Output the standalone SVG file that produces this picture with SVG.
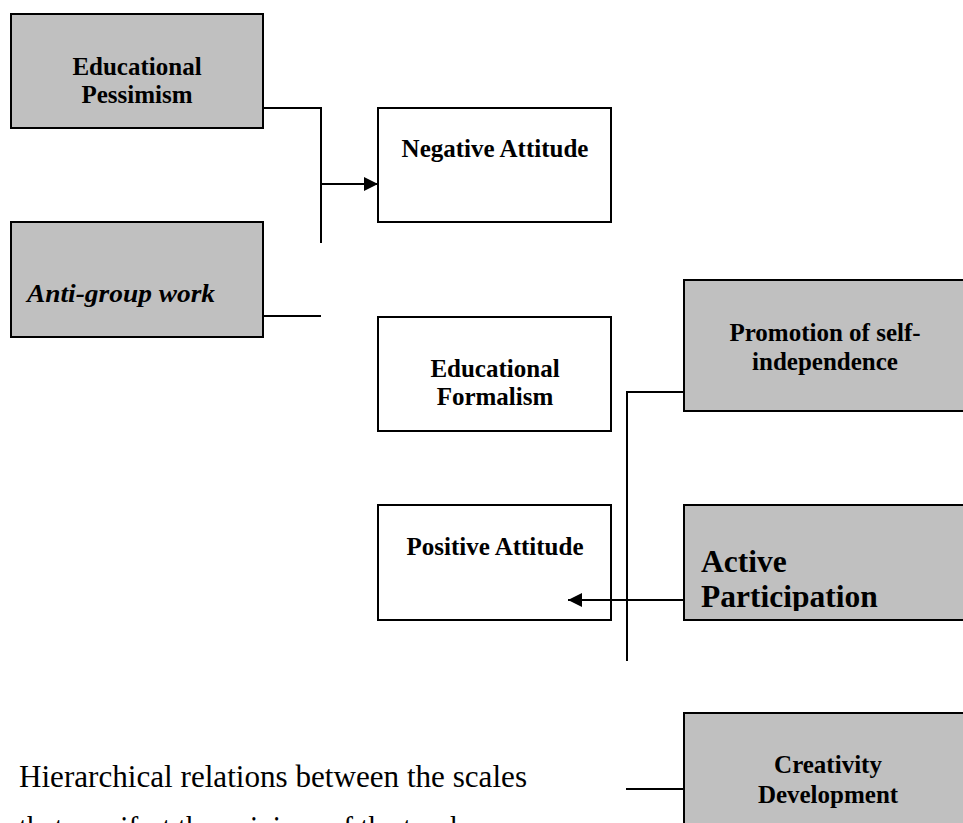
<svg xmlns="http://www.w3.org/2000/svg" width="963" height="823" viewBox="0 0 963 823">
<style>
.box{stroke:#000;stroke-width:2}
.g{fill:#c0c0c0}
.w{fill:#fff}
.t{font-family:"Liberation Serif","Times New Roman",serif;font-weight:bold;font-size:25px;fill:#000;text-anchor:middle}
.ln{fill:none;stroke:#000;stroke-width:2}
.cap{font-family:"Liberation Serif","Times New Roman",serif;font-size:32px;fill:#000}
</style>
<defs>
<marker id="ah" viewBox="0 0 10 10" refX="10" refY="5" markerWidth="15" markerHeight="14" markerUnits="userSpaceOnUse" orient="auto">
<path d="M0,0 L10,5 L0,10 z" fill="#000"/>
</marker>
<clipPath id="apclip"><rect x="684" y="505" width="290" height="106"/></clipPath>
</defs>
<rect width="963" height="823" fill="#fff"/>

<g id="educational-pessimism">
<rect class="box g" x="11" y="14" width="252" height="114"/>
<text class="t" x="137" y="75">Educational</text>
<text class="t" x="137" y="103">Pessimism</text>
</g>

<g id="anti-group-work">
<rect class="box g" x="11" y="222" width="252" height="115"/>
<text x="27" y="302" font-family="Liberation Serif, Times New Roman, serif" font-weight="bold" font-style="italic" font-size="26" textLength="188" lengthAdjust="spacingAndGlyphs">Anti-group work</text>
</g>

<g id="negative-attitude">
<rect class="box w" x="378" y="108" width="233" height="114"/>
<text class="t" x="495" y="157">Negative Attitude</text>
</g>

<g id="educational-formalism">
<rect class="box w" x="378" y="317" width="233" height="114"/>
<text class="t" x="495" y="377">Educational</text>
<text class="t" x="495" y="405">Formalism</text>
</g>

<g id="positive-attitude">
<rect class="box w" x="378" y="505" width="233" height="115"/>
<text class="t" x="495" y="555">Positive Attitude</text>
</g>

<g id="promotion-of-self-independence">
<rect class="box g" x="684" y="280" width="290" height="131"/>
<text class="t" x="825" y="341">Promotion of self-</text>
<text class="t" x="825" y="370">independence</text>
</g>

<g id="active-participation">
<rect class="box g" x="684" y="505" width="290" height="115"/>
<g clip-path="url(#apclip)">
<text x="701" y="572" font-family="Liberation Serif, Times New Roman, serif" font-weight="bold" font-size="31.5">Active</text>
<text x="701" y="607" font-family="Liberation Serif, Times New Roman, serif" font-weight="bold" font-size="31.5">Participation</text>
</g>
</g>

<g id="creativity-development">
<rect class="box g" x="684" y="713" width="290" height="130"/>
<text class="t" x="828" y="773">Creativity</text>
<text class="t" x="828" y="803">Development</text>
</g>

<g id="connectors">
<polyline class="ln" points="263,108 321,108 321,243"/>
<line class="ln" x1="321" y1="184" x2="378" y2="184" marker-end="url(#ah)"/>
<line class="ln" x1="263" y1="316" x2="321" y2="316"/>
<polyline class="ln" points="684,392 627,392 627,661"/>
<line class="ln" x1="684" y1="600" x2="568" y2="600" marker-end="url(#ah)"/>
<line class="ln" x1="684" y1="789" x2="626" y2="789"/>
</g>

<g id="caption">
<text class="cap" x="19" y="787" textLength="508" lengthAdjust="spacingAndGlyphs">Hierarchical relations between the scales</text>
<text class="cap" x="19" y="838" textLength="480" lengthAdjust="spacingAndGlyphs">that manifest the opinions of the teachers</text>
</g>
</svg>
